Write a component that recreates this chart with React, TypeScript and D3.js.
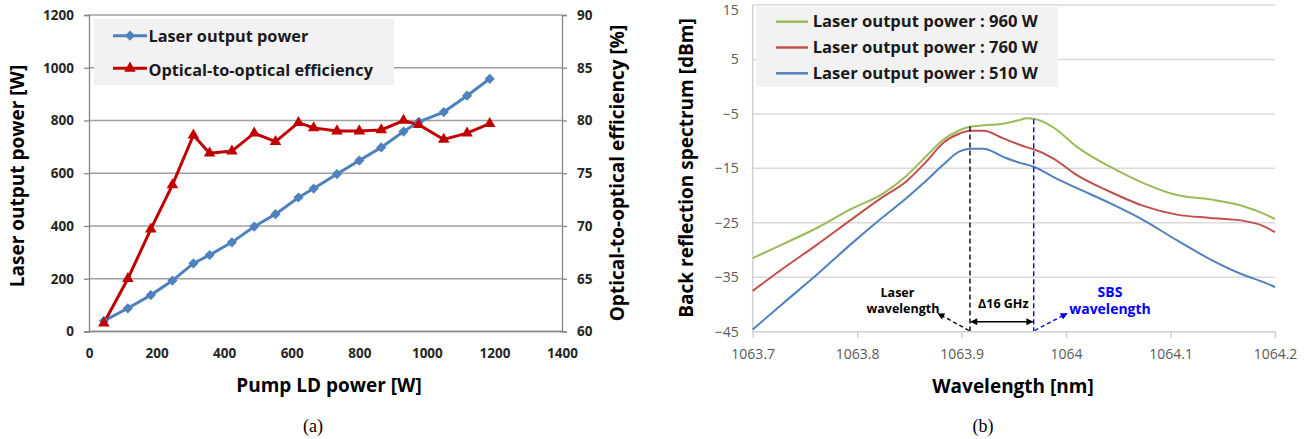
import { useRef, useEffect } from 'react'
import * as d3 from 'd3'

// (a) laser output vs pump power
const pumpPower = [44, 115, 183, 247, 309, 357, 423, 489, 552, 620, 665, 734, 800, 865, 931, 976, 1050, 1119, 1186]
const laserPower = [40, 88, 138, 193, 258, 290, 338, 398, 445, 508, 542, 597, 648, 698, 758, 795, 832, 894, 958]
const efficiency = [60.8, 65.0, 69.7, 73.9, 78.6, 76.9, 77.1, 78.8, 78.0, 79.8, 79.3, 79.0, 79.0, 79.1, 80.0, 79.6, 78.2, 78.8, 79.7]
const powerTicks = [0, 200, 400, 600, 800, 1000, 1200]
const effTicks = [60, 65, 70, 75, 80, 85, 90]
const pumpTicks = [0, 200, 400, 600, 800, 1000, 1200, 1400]

// (b) back reflection spectrum
const wavelength = [
  1063.7, 1063.729, 1063.761, 1063.793, 1063.825, 1063.847, 1063.867, 1063.882, 1063.898, 1063.908, 1063.921, 1063.94,
  1063.956, 1063.962, 1063.969, 1063.988, 1064.01, 1064.042, 1064.074, 1064.106, 1064.138, 1064.169, 1064.189, 1064.2,
]
const spec960 = [
  -31.5, -28.9, -26.0, -22.6, -19.6, -16.4, -12.6, -9.8, -8.0, -7.35, -7.1, -6.8, -6.1, -5.8, -5.9, -7.5, -11.0, -14.7,
  -17.7, -19.9, -20.7, -21.9, -23.3, -24.3,
]
const spec760 = [
  -37.5, -33.4, -29.1, -24.6, -20.2, -17.4, -13.6, -10.4, -8.6, -8.1, -8.1, -9.5, -10.7, -11.1, -11.5, -13.2, -16.2, -19.3,
  -21.9, -23.5, -24.1, -24.6, -25.6, -26.7,
]
const spec510 = [
  -44.6, -39.8, -34.6, -29.1, -23.9, -20.5, -17.1, -14.4, -11.9, -11.4, -11.4, -12.9, -14.0, -14.3, -14.7, -16.6, -18.6,
  -21.4, -24.5, -28.2, -31.7, -34.5, -35.9, -36.8,
]
const spectra = [
  { label: 'Laser output power : 960 W', values: spec960, color: '#9bbb59' },
  { label: 'Laser output power : 760 W', values: spec760, color: '#c0504d' },
  { label: 'Laser output power : 510 W', values: spec510, color: '#4f81bd' },
]
const dbTicks = [-45, -35, -25, -15, -5, 5, 15]
const wlTicks = [1063.7, 1063.8, 1063.9, 1064, 1064.1, 1064.2]
const laserLine = 1063.908
const sbsLine = 1063.969

const font = "'Open Sans', 'Noto Sans', sans-serif"
const blue = '#4f81bd'
const red = '#c00000'

function drawPower(svg) {
  const g = svg.select('.chart-a')
  const x = d3.scaleLinear().domain([0, 1400]).range([89, 562])
  const yL = d3.scaleLinear().domain([0, 1200]).range([331.5, 15])
  const yR = d3.scaleLinear().domain([60, 90]).range([331.5, 15])

  g.append('g')
    .selectAll('line')
    .data(powerTicks)
    .join('line')
    .attr('x1', 89)
    .attr('x2', 562)
    .attr('y1', (d) => yL(d))
    .attr('y2', (d) => yL(d))
    .attr('stroke', '#a0a0a0')
    .attr('stroke-width', 1.3)

  const fmt = d3.format('d')
  const left = g
    .append('g')
    .attr('transform', 'translate(89,0)')
    .call(d3.axisLeft(yL).tickValues(powerTicks).tickSize(5).tickPadding(10).tickFormat(fmt))
  const right = g
    .append('g')
    .attr('transform', 'translate(562,0)')
    .call(d3.axisRight(yR).tickValues(effTicks).tickSize(5).tickPadding(10).tickFormat(fmt))
  const bottom = g
    .append('g')
    .attr('transform', 'translate(0,331.5)')
    .call(d3.axisBottom(x).tickValues(pumpTicks).tickSize(0).tickPadding(17).tickFormat(fmt))
  ;[left, right, bottom].forEach((a) => {
    a.select('.domain').attr('stroke', '#868686').attr('stroke-width', 1.3)
    a.selectAll('.tick line').attr('stroke', '#868686').attr('stroke-width', 1.3)
    a.selectAll('.tick text').attr('font-family', font).attr('font-size', 13.5).attr('font-weight', 'bold').attr('fill', '#262626')
  })
  bottom.select('.domain').attr('d', 'M89,0H562')

  const lineP = d3
    .line()
    .x((d, i) => x(pumpPower[i]))
    .y((d) => yL(d))
  const lineE = d3
    .line()
    .x((d, i) => x(pumpPower[i]))
    .y((d) => yR(d))

  g.append('path').attr('d', lineP(laserPower)).attr('fill', 'none').attr('stroke', blue).attr('stroke-width', 3)
  g.append('path').attr('d', lineE(efficiency)).attr('fill', 'none').attr('stroke', red).attr('stroke-width', 3)

  const diamond = d3.symbol(d3.symbolSquare, 52)()
  const tri = d3.symbol(d3.symbolTriangle, 58)()

  g.append('g')
    .selectAll('path')
    .data(laserPower)
    .join('path')
    .attr('d', diamond)
    .attr('transform', (d, i) => `translate(${x(pumpPower[i])},${yL(d)}) rotate(45)`)
    .attr('fill', blue)
  g.append('g')
    .selectAll('path')
    .data(efficiency)
    .join('path')
    .attr('d', tri)
    .attr('transform', (d, i) => `translate(${x(pumpPower[i])},${yR(d)})`)
    .attr('fill', red)

  // legend
  const lg = g.append('g')
  lg.append('rect').attr('x', 94).attr('y', 19).attr('width', 300).attr('height', 66).attr('fill', '#f2f2f2')
  lg.append('line').attr('x1', 113).attr('x2', 147).attr('y1', 35.7).attr('y2', 35.7).attr('stroke', blue).attr('stroke-width', 3)
  lg.append('path').attr('d', diamond).attr('transform', 'translate(130,35.7) rotate(45)').attr('fill', blue)
  lg.append('line').attr('x1', 113).attr('x2', 147).attr('y1', 68.3).attr('y2', 68.3).attr('stroke', red).attr('stroke-width', 3)
  lg.append('path').attr('d', tri).attr('transform', 'translate(130,68.3)').attr('fill', red)
  lg.append('text').attr('x', 148.5).attr('y', 41.7).text('Laser output power')
  lg.append('text').attr('x', 148.5).attr('y', 76).text('Optical-to-optical efficiency')
  lg.selectAll('text').attr('font-family', font).attr('font-size', 16.3).attr('font-weight', 'bold').attr('fill', '#1a1a1a')

  // titles
  const t = g.append('g').attr('font-family', font).attr('font-weight', 'bold').attr('font-size', 19).attr('fill', '#000').attr('text-anchor', 'middle')
  t.append('text').attr('transform', 'translate(24,176) rotate(-90)').text('Laser output power [W]')
  t.append('text').attr('transform', 'translate(624,173) rotate(-90)').text('Optical-to-optical efficiency [%]')
  t.append('text').attr('x', 329).attr('y', 391.5).text('Pump LD power [W]')
}

function drawSpectrum(svg) {
  const g = svg.select('.chart-b')
  const x = d3.scaleLinear().domain([1063.7, 1064.2]).range([752.7, 1275])
  const y = d3.scaleLinear().domain([-45, 15]).range([331.7, 5])

  g.append('g')
    .selectAll('line')
    .data(dbTicks.slice(1))
    .join('line')
    .attr('x1', 752.7)
    .attr('x2', 1275)
    .attr('y1', (d) => y(d))
    .attr('y2', (d) => y(d))
    .attr('stroke', '#d9d9d9')
    .attr('stroke-width', 1.5)

  const left = g
    .append('g')
    .attr('transform', 'translate(752.7,0)')
    .call(d3.axisLeft(y).tickValues(dbTicks).tickSize(0).tickPadding(14))
  const bottom = g
    .append('g')
    .attr('transform', 'translate(0,331.7)')
    .call(
      d3
        .axisBottom(x)
        .tickValues(wlTicks)
        .tickSize(6)
        .tickPadding(11)
        .tickFormat((d) => String(+d.toFixed(1)))
    )
  ;[left, bottom].forEach((a) => {
    a.select('.domain').attr('stroke', '#d0d0d0').attr('stroke-width', 1.5)
    a.selectAll('.tick line').attr('stroke', '#d0d0d0').attr('stroke-width', 1.5)
    a.selectAll('.tick text').attr('font-family', font).attr('font-size', 14).attr('fill', '#595959')
  })
  left.select('.domain').attr('d', 'M0,331.7V5')
  bottom.select('.domain').attr('d', 'M752.7,0H1275')
  // keep the top label inside the picture
  left
    .selectAll('.tick text')
    .filter((d) => d === 15)
    .attr('dy', '0.68em')

  const line = d3
    .line()
    .x((d, i) => x(wavelength[i]))
    .y((d) => y(d))
    .curve(d3.curveMonotoneX)

  // draw 510 first so that 960 sits on top
  g.append('g')
    .selectAll('path')
    .data(spectra.slice().reverse())
    .join('path')
    .attr('d', (s) => line(s.values))
    .attr('fill', 'none')
    .attr('stroke', (s) => s.color)
    .attr('stroke-width', 2)

  // markers for laser / SBS wavelength
  const defs = svg.append('defs')
  ;[
    ['head-k', '#000'],
    ['head-b', '#0000ff'],
  ].forEach(([id, c]) => {
    defs
      .append('marker')
      .attr('id', id)
      .attr('viewBox', '0 0 10 10')
      .attr('refX', 9)
      .attr('refY', 5)
      .attr('markerWidth', 9)
      .attr('markerHeight', 7)
      .attr('markerUnits', 'userSpaceOnUse')
      .attr('orient', 'auto-start-reverse')
      .append('path')
      .attr('d', 'M0,0L10,5L0,10Z')
      .attr('fill', c)
  })

  const a = g.append('g')
  a.append('line')
    .attr('x1', x(laserLine))
    .attr('x2', x(laserLine))
    .attr('y1', y(-7.3))
    .attr('y2', 331)
    .attr('stroke', '#000')
    .attr('stroke-width', 1.4)
    .attr('stroke-dasharray', '5,3')
  a.append('line')
    .attr('x1', x(sbsLine))
    .attr('x2', x(sbsLine))
    .attr('y1', y(-6.0))
    .attr('y2', 331)
    .attr('stroke', '#0000ff')
    .attr('stroke-width', 1.4)
    .attr('stroke-dasharray', '5,3')
  a.append('line')
    .attr('x1', x(laserLine) + 1)
    .attr('x2', x(sbsLine) - 1)
    .attr('y1', 321.7)
    .attr('y2', 321.7)
    .attr('stroke', '#000')
    .attr('stroke-width', 1.5)
    .attr('marker-start', 'url(#head-k)')
    .attr('marker-end', 'url(#head-k)')
  a.append('line')
    .attr('x1', x(laserLine) - 1)
    .attr('y1', 330.5)
    .attr('x2', 938)
    .attr('y2', 313.5)
    .attr('stroke', '#000')
    .attr('stroke-width', 1.4)
    .attr('stroke-dasharray', '4,3')
    .attr('marker-end', 'url(#head-k)')
  a.append('line')
    .attr('x1', x(sbsLine) + 1)
    .attr('y1', 330.5)
    .attr('x2', 1067)
    .attr('y2', 313.5)
    .attr('stroke', '#0000ff')
    .attr('stroke-width', 1.4)
    .attr('stroke-dasharray', '4,3')
    .attr('marker-end', 'url(#head-b)')

  const at = a.append('g').attr('font-family', font).attr('font-weight', 'bold').attr('text-anchor', 'middle')
  at.append('text').attr('x', 897.5).attr('y', 296.7).attr('font-size', 12.5).text('Laser')
  at.append('text').attr('x', 903).attr('y', 313).attr('font-size', 12.5).text('wavelength')
  at.append('text').attr('x', 1003.3).attr('y', 308.3).attr('font-size', 12.5).text('\u039416 GHz')
  at.append('text').attr('x', 1110).attr('y', 296.7).attr('font-size', 14).attr('fill', '#0000ff').text('SBS')
  at.append('text').attr('x', 1110).attr('y', 314).attr('font-size', 14).attr('fill', '#0000ff').text('wavelength')

  // legend
  const lg = g.append('g')
  lg.append('rect').attr('x', 756).attr('y', 7).attr('width', 302).attr('height', 80).attr('fill', '#f2f2f2')
  spectra.forEach((s, i) => {
    const cy = 21.7 + i * 25.8
    lg.append('line').attr('x1', 776).attr('x2', 808).attr('y1', cy).attr('y2', cy).attr('stroke', s.color).attr('stroke-width', 2.5)
    lg.append('text')
      .attr('x', 812.7)
      .attr('y', cy + 5.4)
      .attr('font-family', font)
      .attr('font-size', 16.6)
      .attr('font-weight', 'bold')
      .attr('fill', '#1a1a1a')
      .text(s.label)
  })

  const t = g.append('g').attr('font-family', font).attr('font-weight', 'bold').attr('font-size', 19).attr('fill', '#000').attr('text-anchor', 'middle')
  t.append('text').attr('transform', 'translate(693,168) rotate(-90)').text('Back reflection spectrum [dBm]')
  t.append('text').attr('x', 1013).attr('y', 392.5).text('Wavelength [nm]')
}

export default function App() {
  const ref = useRef(null)

  useEffect(() => {
    const svg = d3.select(ref.current)
    svg.selectAll('.chart-a > *, .chart-b > *, defs').remove()
    drawPower(svg)
    drawSpectrum(svg)
  }, [])

  return (
    <svg ref={ref} width={1312} height={439} style={{ position: 'absolute', left: 0, top: 0, background: '#fff' }}>
      <g className="chart-a" />
      <g className="chart-b" />
      <text x={313} y={432} fontFamily="'Liberation Serif', 'DejaVu Serif', serif" fontSize={18} textAnchor="middle">
        (a)
      </text>
      <text x={983} y={432} fontFamily="'Liberation Serif', 'DejaVu Serif', serif" fontSize={18} textAnchor="middle">
        (b)
      </text>
    </svg>
  )
}
